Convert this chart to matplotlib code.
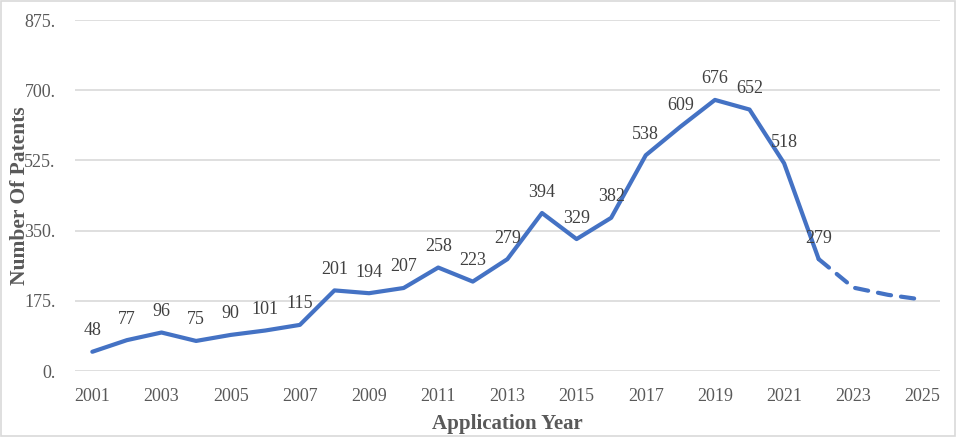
import matplotlib
matplotlib.use("Agg")
import matplotlib.pyplot as plt
from matplotlib.patches import Rectangle

years = list(range(2001, 2023))
patents = [48, 77, 96, 75, 90, 101, 115, 201, 194, 207, 258, 223, 279, 394, 329, 382, 538, 609, 676, 652, 518, 279]
proj_years = [2022, 2023, 2024, 2025]
proj_values = [279, 208, 190, 178]
yticks = [0, 175, 350, 525, 700, 875]
xticks = list(range(2001, 2026, 2))

plt.rcParams['font.family'] = ['Liberation Serif', 'DejaVu Serif']

fig = plt.figure(figsize=(9.56, 4.37), dpi=100)
ax = fig.add_axes([0.0785, 0.151, 0.9045, 0.803])

line_color = '#4472C4'
ax.plot(years, patents, color=line_color, lw=3.0, solid_capstyle='round', solid_joinstyle='round', zorder=3)
ax.plot(proj_years, proj_values, color=line_color, lw=3.0, ls=(0, (3.2, 2.4)), dash_capstyle='round', zorder=3)

for x, v in zip(years, patents):
    ax.annotate(str(v), (x, v), xytext=(0, 9), textcoords='offset points',
                ha='center', va='bottom', fontsize=13, color='#404040', zorder=4)

ax.set_xlim(2000.5, 2025.5)
ax.set_ylim(0, 875)
ax.set_yticks(yticks)
ax.set_yticklabels([f"{t}." for t in yticks])
ax.set_xticks(xticks)
ax.set_xticklabels([str(t) for t in xticks])
ax.tick_params(axis='both', length=0, labelsize=13, labelcolor='#595959')
ax.tick_params(axis='x', pad=12)
ax.tick_params(axis='y', pad=14)
ax.grid(axis='y', color='#d9d9d9', lw=1.2)
ax.set_axisbelow(True)
for s in ax.spines.values():
    s.set_visible(False)

ax.set_xlabel('Application Year', fontsize=15, fontweight='bold', color='#595959', labelpad=7)
ax.set_ylabel('Number Of Patents', fontsize=15.5, fontweight='bold', color='#595959', labelpad=-4)

fig.patches.append(Rectangle((0.001, 0.002), 0.998, 0.996, transform=fig.transFigure,
                             fill=False, edgecolor='#d9d9d9', lw=1.2))

fig.savefig('out.png', dpi=100)
